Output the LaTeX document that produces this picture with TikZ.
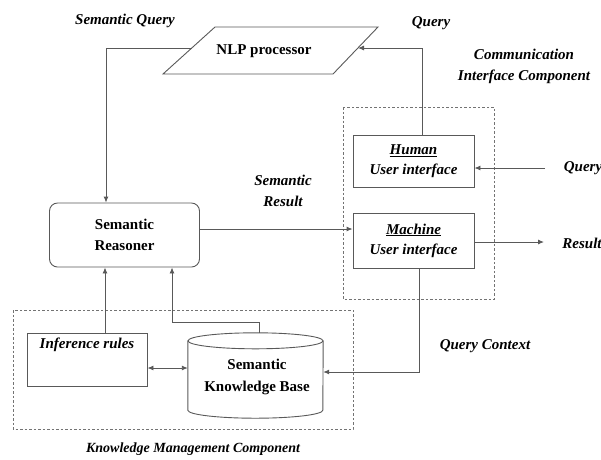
\documentclass[tikz,border=0pt]{standalone}
\usepackage{fontspec}
\setmainfont{Liberation Serif}
\usetikzlibrary{shapes.geometric,arrows.meta,positioning,calc}
\tikzset{
  tip/.tip={Latex[length=6pt,width=5pt]},
  conn/.style={draw=black!65, line width=0.9pt, -tip},
  shp/.style={draw=black!65, line width=0.9pt},
  box/.style={draw=black!65, line width=0.9pt, fill=white, align=center, inner sep=0pt,
              font=\bfseries\itshape\fontsize{15}{20}\selectfont},
  lab/.style={align=center, inner sep=0pt, font=\bfseries\itshape\fontsize{15}{21}\selectfont},
  grp/.style={draw=black!55, line width=0.9pt, dash pattern=on 2.5pt off 2pt},
}
\begin{document}
\begin{tikzpicture}[x=1pt,y=-1pt]
\useasboundingbox (0,0) rectangle (601,459);
% group boxes
\draw[grp] (343,107) rectangle (494,299);
\draw[grp] (13,310) rectangle (353,429);
% NLP parallelogram
\coordinate (p1) at (163,74);
\coordinate (p2) at (215,27);
\coordinate (p3) at (378,27);
\coordinate (p4) at (333,74);
\draw[shp] (p1) -- (p2) -- (p3) -- (p4) -- cycle;
\node[inner sep=0pt, font=\bfseries\fontsize{15}{18}\selectfont] (nlp) at (264,51) {NLP processor};
\coordinate (nlpL) at (192,48);
\coordinate (nlpR) at (358,48);
% boxes
\node[box, minimum width=121pt, minimum height=52pt] (human) at (413.5,161) {\underline{Human}\\User interface};
\node[box, minimum width=121pt, minimum height=55pt] (machine) at (413.5,240.5) {\underline{Machine}\\User interface};
\node[shp, rounded corners=8pt, minimum width=150pt, minimum height=64pt,
      align=center, inner sep=0pt, font=\bfseries\fontsize{15}{21}\selectfont] (reasoner) at (124.5,235) {Semantic\\Reasoner};
\node[shp, minimum width=120pt, minimum height=53pt] (rules) at (87,359.5) {};
\node[lab] (ruleslab) at (87,345) {Inference rules};
% knowledge base cylinder
\node[minimum width=135pt, minimum height=85pt, inner sep=0pt] (kb) at (255.5,375.5) {};
\draw[shp, fill=white] ($(kb.north west)+(0,8)$) -- ($(kb.south west)+(0,-8)$)
   arc[start angle=180, end angle=360, x radius=67.5pt, y radius=8pt]
   -- ($(kb.north east)+(0,8)$);
\draw[shp] ($(kb.north)+(0,8)$) ellipse[x radius=67.5pt, y radius=8pt];
\node[align=center, inner sep=0pt, font=\bfseries\fontsize{15}{22}\selectfont] (kblab) at (257,377) {Semantic\\Knowledge Base};
% labels
\node[lab] (lsq) at (125,21) {Semantic Query};
\node[lab] (lq1) at (431,23) {Query};
\node[lab] (lcic) at (524,66) {Communication\\Interface Component};
\node[lab] (lq2) at (583,168) {Query};
\node[lab] (lres) at (582,243) {Result};
\node[lab] (lsr) at (283,191) {Semantic\\Result};
\node[lab] (lqc) at (485,346) {Query Context};
\node[lab, font=\bfseries\itshape\fontsize{14}{17}\selectfont] (lkmc) at (193,449) {Knowledge Management Component};
% free ends
\coordinate (qin) at (545,168);
\coordinate (rout) at (544,242);
% connectors
\draw[conn] (nlpL) -- (106,48) -- (reasoner.north -| 106,0);
\draw[conn] (human.north -| 422,0) |- (nlpR);
\draw[conn] (qin) -- (human.east |- qin);
\draw[conn] (machine.east |- rout) -- (rout);
\draw[conn] (reasoner.east |- 0,229) -- (machine.west |- 0,229);
\draw[conn] (rules.north -| 105,0) -- (reasoner.south -| 105,0);
\draw[conn] (kb.north -| 259,0) |- (172,322) -- (reasoner.south -| 172,0);
\draw[draw=black!65, line width=0.9pt, tip-tip] (rules.east |- 0,368) -- (kb.west |- 0,368);
\draw[conn] (machine.south -| 419,0) |- (kb.east |- 0,372);
\end{tikzpicture}
\end{document}
